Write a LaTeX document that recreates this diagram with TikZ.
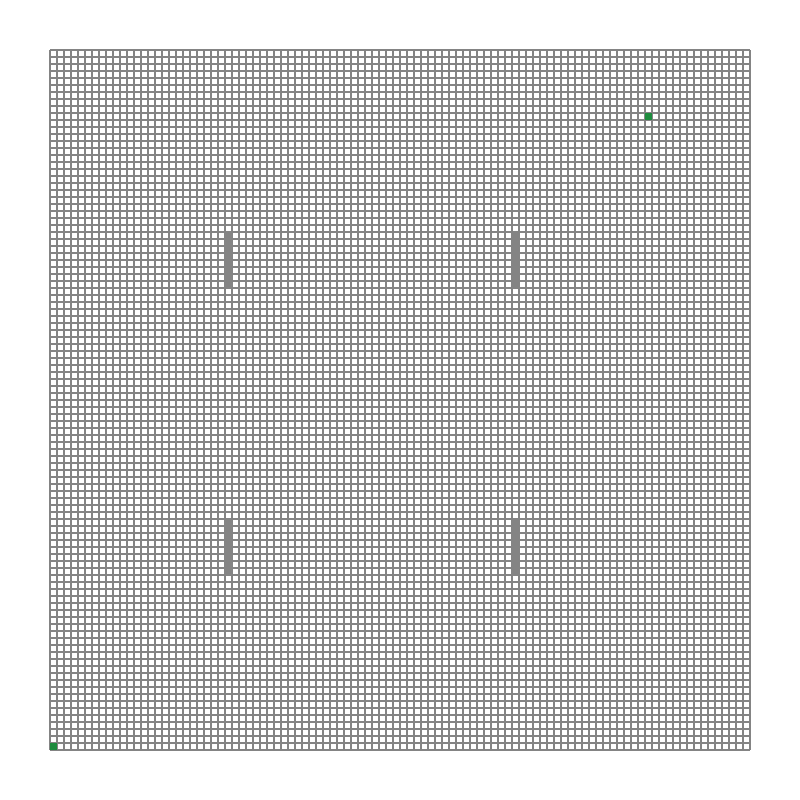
\documentclass[tikz,border=0pt]{standalone}
\definecolor{gridgray}{RGB}{132,132,132}
\definecolor{goalgreen}{RGB}{30,140,62}
\tikzset{
  gridline/.style={draw=gridgray,line width=1.626pt},
  obstacle/.style={fill=gridgray},
  endpoint/.style={fill=goalgreen}
}
\begin{document}
\begin{tikzpicture}[x=0.2cm,y=-0.2cm]
% one cell = 7 px of the 800 px image
\useasboundingbox (-7.1428571,-7.1428571) rectangle (107.1428571,107.1428571);
% grid
\foreach \i in {0,...,100} {
  \draw[gridline] (\i,0) -- (\i,100);
  \draw[gridline] (0,\i) -- (100,\i);
}
% obstacles (columns, rows counted from top)
\fill[obstacle] (24.9,25.9) rectangle (26.1,34.1);
\fill[obstacle] (65.9,25.9) rectangle (67.1,34.1);
\fill[obstacle] (24.9,66.9) rectangle (26.1,75.1);
\fill[obstacle] (65.9,66.9) rectangle (67.1,75.1);
% start and goal cells
\fill[endpoint] (85,9) rectangle (86,10);
\fill[endpoint] (0,99) rectangle (1,100);
\end{tikzpicture}
\end{document}
